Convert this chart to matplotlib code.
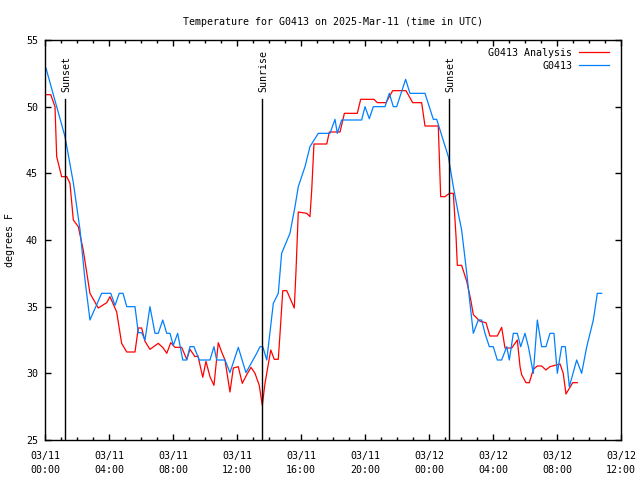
import matplotlib
matplotlib.use("Agg")
import matplotlib.pyplot as plt
from matplotlib.ticker import MultipleLocator, FuncFormatter
import matplotlib.transforms as mtransforms
import datetime as dt

# hours since 2025-03-11 00:00 UTC
obs_hours = [0.06, 1.25, 1.77, 2.19, 2.5, 2.81, 3.54, 4.11, 4.375, 4.64, 4.875, 5.11, 5.625, 5.83,
             6.04, 6.25, 6.56, 6.875, 7.08, 7.36, 7.61, 7.81, 8.02, 8.29, 8.61, 8.86, 9.06, 9.31,
             9.64, 10.31, 10.56, 10.73, 11.25, 11.56, 12.08, 12.56, 13.23, 13.44, 13.61, 13.86,
             14.27, 14.58, 14.79, 15.31, 15.625, 15.83, 16.25, 16.56, 17.08, 17.81, 18.125, 18.27,
             18.54, 19.79, 20.0, 20.27, 20.52, 21.25, 21.52, 21.77, 21.98, 22.54, 22.81, 23.75,
             24.27, 24.48, 25.21, 25.52, 25.83, 26.04, 26.36, 26.56, 26.77, 27.08, 27.29, 27.5,
             27.77, 28.02, 28.27, 28.54, 28.86, 29.02, 29.27, 29.52, 29.73, 30.0, 30.21, 30.52,
             30.77, 31.04, 31.31, 31.56, 31.81, 32.02, 32.29, 32.52, 32.77, 33.23, 33.54, 33.86,
             34.27, 34.52, 34.79]
obs_temp = [52.9, 47.75, 44.3, 40.75, 37.0, 34.0, 36.0, 36.0, 35.1, 36.0, 36.0, 35.0, 35.0, 33.05,
            33.05, 32.5, 35.0, 33.0, 33.0, 34.0, 33.0, 33.0, 32.1, 33.0, 31.0, 31.0, 32.0, 32.0,
            31.0, 31.0, 32.0, 31.0, 31.0, 30.05, 31.95, 30.05, 31.5, 32.0, 32.0, 31.0,
            35.25, 36.0, 39.0, 40.5, 42.5, 44.0, 45.5, 47.0, 48.0, 48.0, 49.05, 48.0,
            49.0, 49.0, 50.0, 49.1, 50.0, 50.0, 51.0, 50.0, 50.0, 52.05, 51.0, 51.0,
            49.05, 49.05, 46.25, 44.0, 42.0, 40.75, 37.5, 35.25, 33.0, 34.0, 34.0, 33.0,
            32.0, 32.0, 31.0, 31.0, 32.0, 31.0, 33.0, 33.0, 32.0, 33.0, 32.0, 30.0,
            34.0, 32.0, 32.0, 33.0, 33.0, 30.0, 32.0, 32.0, 29.0, 31.0, 30.0, 32.0,
            34.0, 36.0, 36.0]

ana_hours = [0.06, 0.36, 0.625, 0.73, 1.04, 1.36, 1.56, 1.77, 2.08, 2.39, 2.81, 3.33, 3.86, 4.06,
             4.48, 4.79, 5.11, 5.625, 5.83, 6.04, 6.25, 6.56, 7.08, 7.39, 7.61, 7.86, 8.125, 8.54,
             8.86, 9.06, 9.375, 9.56, 9.86, 10.06, 10.31, 10.56, 10.83, 11.04, 11.25, 11.56, 11.77,
             12.08, 12.33, 12.61, 12.875, 13.125, 13.39, 13.58, 13.75, 14.11, 14.33, 14.58, 14.69,
             14.86, 15.11, 15.58, 15.69, 15.83, 16.36, 16.56, 16.67, 16.81, 17.61, 17.77, 18.44,
             18.71, 19.52, 19.73, 20.56, 20.77, 21.31, 21.73, 22.56, 22.98, 23.54, 23.75, 24.58,
             24.73, 25.0, 25.27, 25.52, 25.69, 25.77, 26.04, 26.36, 26.61, 26.77, 27.19, 27.56,
             27.81, 28.27, 28.54, 28.75, 29.17, 29.52, 29.69, 29.79, 30.06, 30.27, 30.52, 30.77,
             31.04, 31.31, 31.56, 31.875, 32.19, 32.39, 32.56, 32.81, 32.98, 33.27]
ana_temp = [50.9, 50.9, 50.0, 46.25, 44.75, 44.75, 44.25, 41.5, 41.0, 39.25, 36.0, 34.9, 35.3, 35.75,
            34.6, 32.25, 31.6, 31.6, 33.4, 33.4, 32.4, 31.8, 32.25, 31.9, 31.5, 32.3, 31.95, 31.95,
            31.05, 31.8, 31.25, 31.3, 29.7, 30.9, 29.75, 29.1, 32.3, 31.6, 31.0, 28.6, 30.4,
            30.5, 29.25, 29.9, 30.45, 30.0, 29.1, 27.6, 29.25, 31.75, 31.05, 31.05, 33.0,
            36.2, 36.2, 34.9, 37.75, 42.1, 42.0, 41.75, 43.75, 47.2, 47.2, 48.1, 48.1,
            49.5, 49.5, 50.55, 50.55, 50.3, 50.3, 51.2, 51.2, 50.3, 50.3, 48.55, 48.55,
            43.25, 43.25, 43.5, 43.5, 40.25, 38.1, 38.1, 36.9, 35.5, 34.4, 33.9, 33.8,
            32.8, 32.8, 33.45, 31.9, 31.9, 32.5, 30.5, 29.9, 29.3, 29.3, 30.3, 30.55,
            30.55, 30.25, 30.5, 30.6, 30.7, 30.0, 28.45, 28.95, 29.3, 29.3]

events = ["Sunset", "Sunrise", "Sunset"]
event_hours = [1.25, 13.56, 25.25]

start = dt.datetime(2025, 3, 11, 0, 0)
FONT = "DejaVu Sans Mono"
FS = 7.2

fig = plt.figure(figsize=(6.4, 4.8), dpi=100)
ax = fig.add_axes([45 / 640, 40 / 480, 576 / 640, 400 / 480])

ax.plot(ana_hours, ana_temp, color="#ff0000", lw=0.9, label="G0413 Analysis")
ax.plot(obs_hours, obs_temp, color="#0080ff", lw=0.9, label="G0413")

trans = mtransforms.blended_transform_factory(ax.transData, ax.transAxes)
for name, h in zip(events, event_hours):
    ax.axvline(h, ymin=0, ymax=0.853, color="black", lw=1.0)
    ax.text(h + 0.07, 0.87, name, transform=trans, rotation=90, ha="center", va="bottom",
            family=FONT, fontsize=FS)

ax.set_xlim(0, 36)
ax.set_ylim(25, 55)
ax.xaxis.set_major_locator(MultipleLocator(4))
ax.xaxis.set_minor_locator(MultipleLocator(1))
ax.yaxis.set_major_locator(MultipleLocator(5))

def fmt(v, pos):
    t = start + dt.timedelta(hours=v)
    return t.strftime("%m/%d\n%H:%M")

ax.xaxis.set_major_formatter(FuncFormatter(fmt))
ax.tick_params(axis="both", which="both", direction="in", top=True, right=True,
               width=1.0, labelsize=FS)
ax.tick_params(axis="both", which="major", length=4.5)
ax.tick_params(axis="both", which="minor", length=2.5)
ax.tick_params(axis="x", pad=8)
ax.tick_params(axis="y", pad=5)
for lab in ax.get_xticklabels() + ax.get_yticklabels():
    lab.set_family(FONT)
    lab.set_linespacing(1.5)
for s in ax.spines.values():
    s.set_linewidth(1.0)

ax.set_title("Temperature for G0413 on 2025-Mar-11 (time in UTC)", family=FONT, fontsize=FS, pad=11)
fig.text(10 / 640, 0.5, "degrees F", rotation=90, ha="center", va="center", family=FONT, fontsize=FS)

leg = ax.legend(loc="upper right", bbox_to_anchor=(0.99, 0.995), frameon=False, markerfirst=False,
                prop={"family": FONT, "size": FS}, handlelength=3.0, handletextpad=0.7,
                labelspacing=0.3, borderaxespad=0.2)

fig.savefig("out.png", dpi=100)
